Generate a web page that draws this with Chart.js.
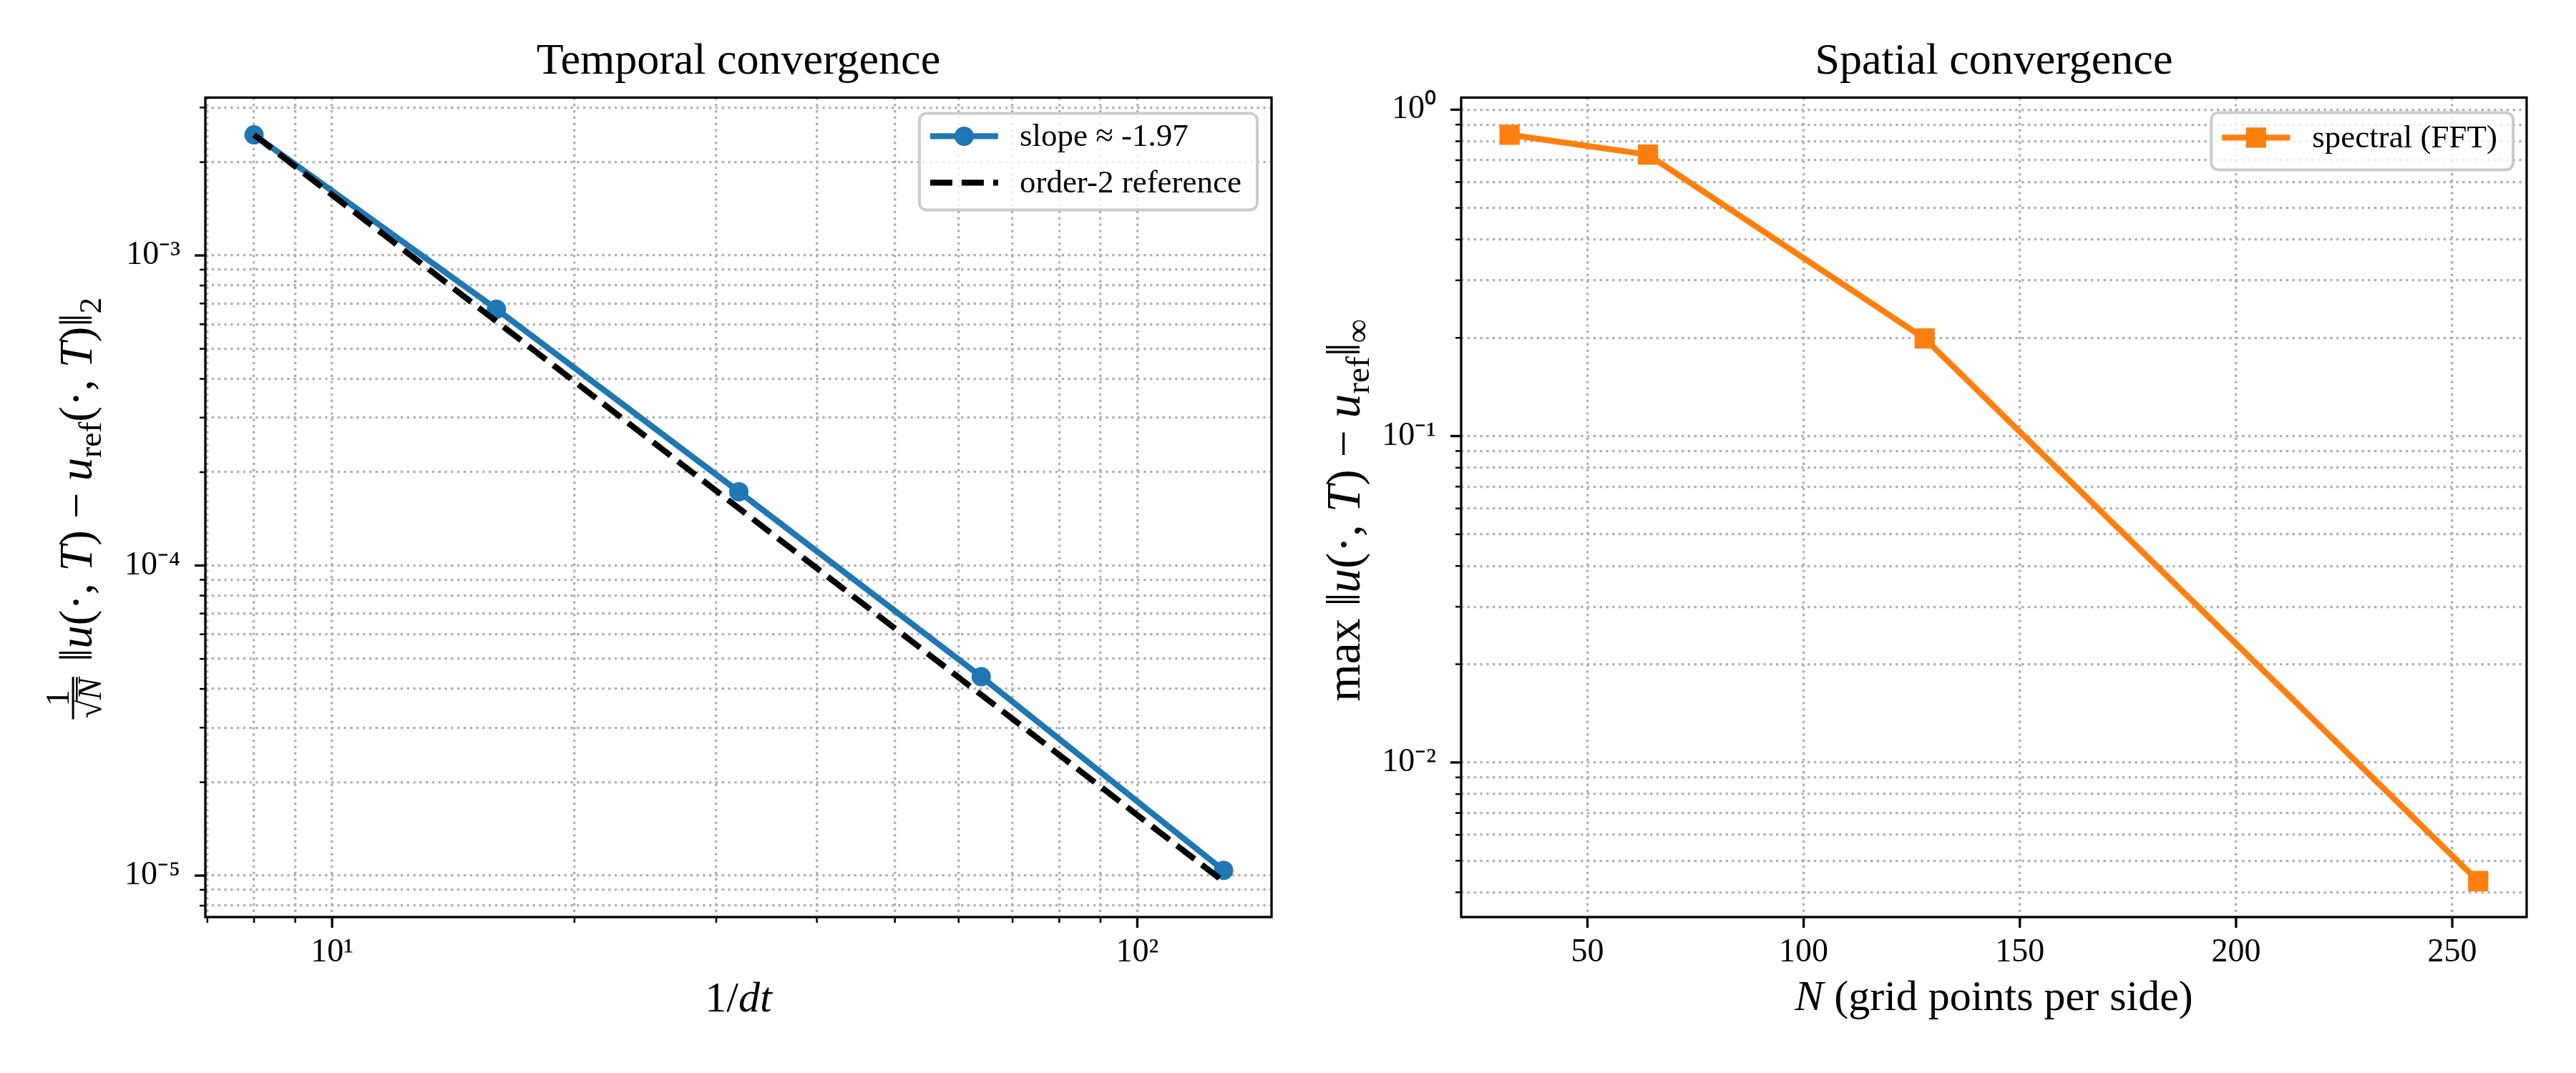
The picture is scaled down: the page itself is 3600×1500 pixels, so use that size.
<!DOCTYPE html>
<html>
<head>
<meta charset="utf-8">
<script src="https://cdn.jsdelivr.net/npm/chart.js@4.4.0/dist/chart.umd.min.js"></script>
<style>
  html, body { margin: 0; padding: 0; background: #fff; }
  #wrap { position: relative; width: 3600px; height: 1500px; }
  .panel { position: absolute; top: 0; width: 1800px; height: 1500px; }
</style>
</head>
<body>
<div id="wrap">
  <div class="panel" style="left:0"><canvas id="temporal" width="1800" height="1500"></canvas></div>
  <div class="panel" style="left:1800px"><canvas id="spatial" width="1800" height="1500"></canvas></div>
</div>
<script>
// temporal convergence (1/dt vs error)
const invDt = [8, 16, 32, 64, 128];
const errTemporal = [2.45e-3, 6.71e-4, 1.73e-4, 4.38e-5, 1.04e-5];
const errOrder2 = [2.45e-3, 6.13e-4, 1.53e-4, 3.83e-5, 9.57e-6];

// spatial convergence (N vs max error)
const gridN = [32, 64, 128, 256];
const errSpatial = [0.838, 0.728, 0.199, 4.33e-3];

// ticks
const tXTicks = [7, 8, 9, 10, 20, 30, 40, 50, 60, 70, 80, 90, 100];
const tXMajor = [10, 100];
const tXMajorLabels = ['10¹', '10²'];
const tYTicks = [8e-6, 9e-6, 1e-5, 2e-5, 3e-5, 4e-5, 5e-5, 6e-5, 7e-5, 8e-5, 9e-5,
                 1e-4, 2e-4, 3e-4, 4e-4, 5e-4, 6e-4, 7e-4, 8e-4, 9e-4, 1e-3, 2e-3, 3e-3];
const tYMajor = [1e-5, 1e-4, 1e-3];
const tYMajorLabels = ['10⁻⁵', '10⁻⁴', '10⁻³'];

const sXTicks = [50, 100, 150, 200, 250];
const sYTicks = [4e-3, 5e-3, 6e-3, 7e-3, 8e-3, 9e-3, 1e-2, 2e-2, 3e-2, 4e-2, 5e-2, 6e-2, 7e-2, 8e-2, 9e-2,
                 0.1, 0.2, 0.3, 0.4, 0.5, 0.6, 0.7, 0.8, 0.9, 1];
const sYMajor = [1e-2, 1e-1, 1];
const sYMajorLabels = ['10⁻²', '10⁻¹', '10⁰'];

const FONT = '"Liberation Serif", "Times New Roman", serif';
const BLUE = '#1f77b4', ORANGE = '#ff7f0e';

function findMajor(v, majors) {
  return majors.findIndex(m => Math.abs(m - v) <= Math.abs(m) * 1e-6);
}

// text with italics / subscripts / a small fraction, optionally rotated
function drawRich(ctx, parts, cx, cy, size, rotate, fitLen) {
  const fontOf = (it, s) => (it ? 'italic ' : '') + s + 'px ' + FONT;
  const measure = sz => parts.map(p => {
    const fs = sz * 0.72;
    if (p.frac) {
      ctx.font = fontOf(false, fs);
      const wn = ctx.measureText(p.num).width;
      const wr = ctx.measureText('√').width;
      ctx.font = fontOf(true, fs);
      const wd = wr + ctx.measureText(p.den).width;
      return Math.max(wn, wd) + sz * 0.2;
    }
    ctx.font = fontOf(p.it, p.sub ? sz * 0.7 : sz);
    return ctx.measureText(p.t).width;
  });
  let widths = measure(size);
  let total = widths.reduce((a, b) => a + b, 0);
  if (fitLen) {
    size = size * fitLen / total;
    widths = measure(size);
    total = widths.reduce((a, b) => a + b, 0);
  }
  const fs = size * 0.72;
  ctx.save();
  ctx.translate(cx, cy);
  if (rotate) ctx.rotate(-Math.PI / 2);
  ctx.fillStyle = '#000';
  ctx.textBaseline = 'alphabetic';
  ctx.textAlign = 'left';
  let x = -total / 2;
  parts.forEach((p, i) => {
    if (p.frac) {
      const w = widths[i], mid = x + w / 2, axis = -size * 0.4;
      ctx.font = fontOf(false, fs);
      ctx.textAlign = 'center';
      ctx.fillText(p.num, mid, axis - size * 0.09);
      ctx.textAlign = 'left';
      const wr = ctx.measureText('√').width;
      ctx.font = fontOf(true, fs);
      const wd = ctx.measureText(p.den).width;
      const dx = mid - (wr + wd) / 2, dBase = axis + size * 0.09 + fs * 0.7;
      ctx.font = fontOf(false, fs);
      ctx.fillText('√', dx, dBase);
      ctx.font = fontOf(true, fs);
      ctx.fillText(p.den, dx + wr, dBase);
      ctx.fillRect(dx + wr - 1, dBase - fs * 0.74, wd + 2, 2.5);
      ctx.fillRect(x + size * 0.08, axis - 1.5, w - size * 0.16, 3);
    } else {
      ctx.font = fontOf(p.it, p.sub ? size * 0.7 : size);
      ctx.fillText(p.t, x, p.sub ? size * 0.2 : 0);
    }
    x += widths[i];
  });
  ctx.restore();
}

function drawLegend(chart, L) {
  const ctx = chart.ctx, a = chart.chartArea;
  const items = chart.data.datasets;
  ctx.save();
  ctx.font = L.size + 'px ' + FONT;
  const textW = Math.max(...items.map(d => ctx.measureText(d.label).width));
  const w = L.padL + L.handle + L.gap + textW + L.padR;
  const h = L.padT + (items.length - 1) * L.rowGap + L.padB;
  const x0 = a.right - L.right - w, y0 = a.top + L.top;
  ctx.fillStyle = 'rgba(255,255,255,0.8)';
  ctx.strokeStyle = '#cccccc';
  ctx.lineWidth = 4;
  ctx.beginPath();
  ctx.roundRect(x0, y0, w, h, 10);
  ctx.fill();
  ctx.stroke();
  items.forEach((d, i) => {
    const cy = y0 + L.padT + i * L.rowGap;
    const hx = x0 + L.padL;
    ctx.strokeStyle = d.borderColor;
    ctx.lineWidth = d.borderWidth;
    ctx.setLineDash(d.borderDash || []);
    ctx.beginPath();
    ctx.moveTo(hx, cy);
    ctx.lineTo(hx + L.handle, cy);
    ctx.stroke();
    ctx.setLineDash([]);
    ctx.fillStyle = d.backgroundColor;
    const r = d.pointRadius || 0;
    if (r > 0 && d.pointStyle === 'rect') {
      const s = r * Math.SQRT1_2;
      ctx.fillRect(hx + L.handle / 2 - s, cy - s, 2 * s, 2 * s);
    } else if (r > 0) {
      ctx.beginPath();
      ctx.arc(hx + L.handle / 2, cy, r, 0, Math.PI * 2);
      ctx.fill();
    }
    ctx.fillStyle = '#000';
    ctx.textBaseline = 'middle';
    ctx.textAlign = 'left';
    ctx.fillText(d.label, hx + L.handle + L.gap, cy + 2);
  });
  ctx.restore();
}

function decor(cfg) {
  return {
    id: 'decor',
    afterDraw(chart) {
      const ctx = chart.ctx, a = chart.chartArea;
      ctx.save();
      ctx.strokeStyle = '#000';
      ['x', 'y'].forEach(id => {
        const s = chart.scales[id];
        const majors = cfg.majors[id];
        s.ticks.forEach(t => {
          const p = s.getPixelForValue(t.value);
          const major = !majors || findMajor(t.value, majors) >= 0;
          const len = major ? 15 : 8;
          ctx.lineWidth = major ? 3.3 : 2.5;
          ctx.beginPath();
          if (id === 'x') { ctx.moveTo(p, a.bottom); ctx.lineTo(p, a.bottom + len); }
          else { ctx.moveTo(a.left, p); ctx.lineTo(a.left - len, p); }
          ctx.stroke();
        });
      });
      ctx.lineWidth = 3.3;
      ctx.strokeRect(a.left, a.top, a.right - a.left, a.bottom - a.top);
      ctx.restore();
      drawRich(ctx, cfg.xLabel, (a.left + a.right) / 2, cfg.xLabelY, 60, false);
      drawRich(ctx, cfg.yLabel, cfg.yLabelX, (a.top + a.bottom) / 2 + 4, 60, true, cfg.yLabelLen);
      drawLegend(chart, cfg.legend);
    }
  };
}

const gridOpts = { color: '#b0b0b0', lineWidth: 3.3, drawTicks: false };
const borderOpts = { display: false, dash: [3.3, 5.5] };
const tickFont = { family: FONT, size: 46 };

function titleOpts(text) {
  return {
    display: true, text: text, fullSize: false, color: '#000',
    font: { family: FONT, size: 62, weight: 'normal' },
    padding: { top: 50, bottom: 12 }
  };
}

// left: temporal convergence
new Chart(document.getElementById('temporal'), {
  type: 'line',
  data: {
    datasets: [
      {
        label: 'slope ≈ -1.97',
        data: invDt.map((x, i) => ({ x: x, y: errTemporal[i] })),
        borderColor: BLUE, backgroundColor: BLUE, borderWidth: 8.3,
        pointStyle: 'circle', pointRadius: 13.5, pointBorderWidth: 0,
        tension: 0, order: 2
      },
      {
        label: 'order-2 reference',
        data: invDt.map((x, i) => ({ x: x, y: errOrder2[i] })),
        borderColor: '#000', backgroundColor: '#000', borderWidth: 8.3,
        borderDash: [31, 13], pointRadius: 0, tension: 0, order: 1
      }
    ]
  },
  options: {
    responsive: false, animation: false, events: [],
    layout: { padding: { left: 0, right: 23, top: 0, bottom: 0 } },
    plugins: { legend: { display: false }, tooltip: { enabled: false }, title: titleOpts('Temporal convergence') },
    scales: {
      x: {
        type: 'logarithmic', min: 6.96, max: 146.8,
        grid: gridOpts, border: borderOpts,
        afterBuildTicks: s => { s.ticks = tXTicks.map(v => ({ value: v })); },
        afterFit: s => { s.height = 218; },
        ticks: {
          autoSkip: false, maxRotation: 0, padding: 22, color: '#000', font: tickFont,
          callback: v => { const i = findMajor(v, tXMajor); return i < 0 ? '' : tXMajorLabels[i]; }
        }
      },
      y: {
        type: 'logarithmic', min: 7.35e-6, max: 3.23e-3,
        grid: gridOpts, border: borderOpts,
        afterBuildTicks: s => { s.ticks = tYTicks.map(v => ({ value: v })); },
        afterFit: s => { s.width = 287; },
        ticks: {
          autoSkip: false, padding: 35, color: '#000', font: tickFont,
          callback: v => { const i = findMajor(v, tYMajor); return i < 0 ? '' : tYMajorLabels[i]; }
        }
      }
    }
  },
  plugins: [decor({
    majors: { x: tXMajor, y: tYMajor },
    xLabel: [{ t: '1/' }, { t: 'dt', it: true }],
    xLabelY: 1414,
    yLabel: [{ frac: true, num: '1', den: 'N' }, { t: ' ‖' }, { t: 'u', it: true }, { t: '(·, ' }, { t: 'T', it: true },
             { t: ') − ' }, { t: 'u', it: true }, { t: 'ref', sub: true }, { t: '(·, ' }, { t: 'T', it: true },
             { t: ')‖' }, { t: '2', sub: true }],
    yLabelX: 128,
    yLabelLen: 595,
    legend: { size: 45, right: 20, top: 22, padL: 15, handle: 95, gap: 30, padR: 22, padT: 32, rowGap: 65, padB: 38 }
  })]
});

// right: spatial convergence
new Chart(document.getElementById('spatial'), {
  type: 'line',
  data: {
    datasets: [
      {
        label: 'spectral (FFT)',
        data: gridN.map((x, i) => ({ x: x, y: errSpatial[i] })),
        borderColor: ORANGE, backgroundColor: ORANGE, borderWidth: 8.3,
        pointStyle: 'rect', pointRadius: 20, pointBorderWidth: 0, tension: 0
      }
    ]
  },
  options: {
    responsive: false, animation: false, events: [],
    layout: { padding: { left: 0, right: 69, top: 0, bottom: 0 } },
    plugins: { legend: { display: false }, tooltip: { enabled: false }, title: titleOpts('Spatial convergence') },
    scales: {
      x: {
        type: 'linear', min: 20.8, max: 267.2,
        grid: gridOpts, border: borderOpts,
        afterBuildTicks: s => { s.ticks = sXTicks.map(v => ({ value: v })); },
        afterFit: s => { s.height = 218; },
        ticks: { autoSkip: false, maxRotation: 0, padding: 22, color: '#000', font: tickFont,
                 callback: v => String(v) }
      },
      y: {
        type: 'logarithmic', min: 3.36e-3, max: 1.089,
        grid: gridOpts, border: borderOpts,
        afterBuildTicks: s => { s.ticks = sYTicks.map(v => ({ value: v })); },
        afterFit: s => { s.width = 242; },
        ticks: {
          autoSkip: false, padding: 35, color: '#000', font: tickFont,
          callback: v => { const i = findMajor(v, sYMajor); return i < 0 ? '' : sYMajorLabels[i]; }
        }
      }
    }
  },
  plugins: [decor({
    majors: { x: null, y: sYMajor },
    xLabel: [{ t: 'N', it: true }, { t: ' (grid points per side)' }],
    xLabelY: 1412,
    yLabel: [{ t: 'max ‖' }, { t: 'u', it: true }, { t: '(·, ' }, { t: 'T', it: true }, { t: ') − ' },
             { t: 'u', it: true }, { t: 'ref', sub: true }, { t: '‖' }, { t: '∞', sub: true }],
    yLabelX: 100,
    yLabelLen: 535,
    legend: { size: 45, right: 19, top: 21, padL: 15, handle: 95, gap: 31, padR: 22, padT: 35, rowGap: 65, padB: 45 }
  })]
});
</script>
</body>
</html>
